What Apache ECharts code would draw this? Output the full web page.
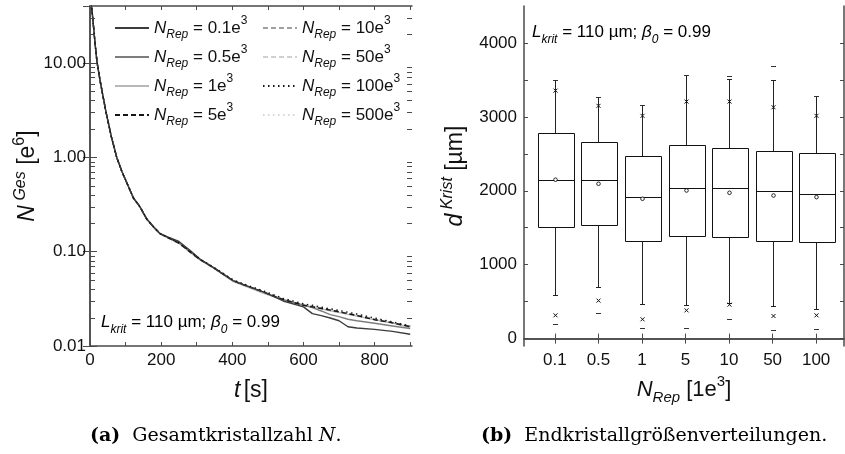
<!DOCTYPE html>
<html><head><meta charset="utf-8">
<script src="https://cdn.jsdelivr.net/npm/echarts@6/dist/echarts.min.js"></script>
<style>html,body{margin:0;padding:0;background:#fff}#c{width:845px;height:454px}</style>
</head><body><div id="c"></div>
<script>
// ---------- left chart data: total crystal number N over time ----------
const tSec = [0,5,10,15,20,30,45,60,75,90,105,122,140,160,180,197,220,250,280,310,346,403,450,490,543,600,625,650,675,700,725,750,800,850,900];
const nRep01  = [55,38,24,15,10,6.0,3.0,1.65,1.0,0.70,0.52,0.37,0.30,0.22,0.18,0.155,0.142,0.128,0.104,0.083,0.068,0.049,0.042,0.037,0.030,0.026,0.022,0.021,0.0198,0.0185,0.016,0.0155,0.015,0.0143,0.0133];
const nRep05  = [55,38,24,15,10,6.0,3.0,1.65,1.0,0.70,0.52,0.37,0.30,0.22,0.18,0.155,0.140,0.124,0.101,0.082,0.068,0.049,0.042,0.037,0.031,0.027,0.0255,0.0235,0.0215,0.0205,0.0192,0.0185,0.0174,0.0163,0.0153];
const nRep1   = [55,38,24,15,10,6.0,3.0,1.65,1.0,0.70,0.52,0.37,0.30,0.22,0.18,0.155,0.139,0.122,0.099,0.081,0.067,0.048,0.041,0.036,0.031,0.027,0.026,0.0248,0.0236,0.0226,0.0216,0.0207,0.019,0.0175,0.0158];
const nRep5   = [55,38,24,15,10,6.0,3.0,1.65,1.0,0.70,0.52,0.37,0.30,0.22,0.18,0.155,0.140,0.123,0.100,0.082,0.068,0.049,0.042,0.037,0.031,0.027,0.026,0.025,0.024,0.023,0.022,0.021,0.019,0.0176,0.016];
const nRep10  = [55,38,24,15,10,6.0,3.0,1.65,1.0,0.70,0.52,0.37,0.30,0.22,0.18,0.155,0.141,0.123,0.100,0.082,0.068,0.049,0.042,0.037,0.0312,0.0272,0.0262,0.0251,0.0241,0.0231,0.0221,0.0211,0.0192,0.0177,0.0161];
const nRep50  = [55,38,24,15,10,6.0,3.0,1.65,1.0,0.70,0.52,0.37,0.30,0.22,0.18,0.155,0.140,0.122,0.100,0.082,0.068,0.049,0.042,0.037,0.031,0.027,0.026,0.025,0.024,0.023,0.022,0.021,0.0191,0.0176,0.0161];
const nRep100 = [55,38,24,15,10,6.0,3.0,1.65,1.0,0.70,0.52,0.37,0.30,0.22,0.18,0.155,0.141,0.124,0.101,0.083,0.069,0.050,0.043,0.038,0.032,0.028,0.027,0.0258,0.0248,0.0238,0.0228,0.0218,0.0198,0.018,0.0163];
const nRep500 = [55,38,24,15,10,6.0,3.0,1.65,1.0,0.70,0.52,0.37,0.30,0.22,0.18,0.155,0.140,0.123,0.100,0.082,0.068,0.049,0.042,0.037,0.031,0.0272,0.0262,0.0252,0.0242,0.0232,0.0222,0.0212,0.0193,0.0178,0.0162];
const repLabels = ['0.1','0.5','1','5','10','50','100','500'];
const tLabelVals = [0,200,400,600,800];
const tTickVals = [0,100,200,300,400,500,600,700,800,900];
const logMinorVals = [0.02,0.03,0.04,0.05,0.06,0.07,0.08,0.09,0.2,0.3,0.4,0.5,0.6,0.7,0.8,0.9,2,3,4,5,6,7,8,9,20,30];

// ---------- right chart data: final crystal size distributions ----------
const boxCats     = ['0.1','0.5','1','5','10','50','100'];
const whiskerLow  = [589,703,468,459,486,446,405];
const quart1      = [1508,1540,1324,1392,1378,1324,1311];
const medianVals  = [2149,2149,1914,2041,2031,2000,1959];
const quart3      = [2784,2657,2464,2622,2576,2541,2508];
const whiskerHigh = [3500,3274,3162,3562,3513,3500,3288];
const meanVals    = [2150,2095,1892,2004,1973,1936,1914];
const pct1Vals    = [315,514,261,382,459,306,315];
const pct99Vals   = [3355,3149,3014,3207,3207,3130,3014];
const minVals     = [203,342,144,144,261,122,135];
const maxVals     = [3500,3274,3162,3562,3554,3684,3288];
const dLabelVals  = [0,1000,2000,3000,4000];
const dTickVals   = [0,500,1000,1500,2000,2500,3000,3500,4000];

// ---------- styling ----------
const SANS = '"Liberation Sans", Arial, Helvetica, sans-serif';
const SERIF = '"DejaVu Serif", "Liberation Serif", serif';
const AX = '#4a4a4a';
function rich(fs) {
  const s = Math.round(fs * 0.68);
  return {
    it:  {fontFamily: SANS, fontSize: fs, fontStyle: 'italic', color: '#111', lineHeight: fs + 9, verticalAlign: 'middle'},
    rg:  {fontFamily: SANS, fontSize: fs, color: '#111', lineHeight: fs + 9, verticalAlign: 'middle'},
    sub: {fontFamily: SANS, fontSize: s, fontStyle: 'italic', color: '#111', lineHeight: s + 2, verticalAlign: 'bottom'},
    sup: {fontFamily: SANS, fontSize: s, color: '#111', lineHeight: s, verticalAlign: 'top'},
    supi:{fontFamily: SANS, fontSize: s, fontStyle: 'italic', color: '#111', lineHeight: s, verticalAlign: 'top'}
  };
}

const lineDefs = [
  {data: nRep01,  color: '#3c3c3c', type: 'solid', z: 8},
  {data: nRep05,  color: '#7d7d7d', type: 'solid', z: 6},
  {data: nRep1,   color: '#b8b8b8', type: 'solid', z: 4},
  {data: nRep5,   color: '#151515', type: [5, 3],  z: 7},
  {data: nRep10,  color: '#a0a0a0', type: [5, 3],  z: 5},
  {data: nRep50,  color: '#d0d0d0', type: [5, 3],  z: 3},
  {data: nRep100, color: '#151515', type: [1.5, 3.5], z: 9},
  {data: nRep500, color: '#d6d6d6', type: [1.5, 3.5], z: 2}
];
const seriesNames = repLabels.map(r => 'NRep=' + r + 'e3');

const series = lineDefs.map((d, i) => ({
  name: seriesNames[i], type: 'line', xAxisIndex: 0, yAxisIndex: 0,
  data: tSec.map((t, k) => [t, d.data[k]]),
  symbol: 'none', clip: true, z: d.z, silent: true, animation: false,
  lineStyle: {color: d.color, width: 1.4, type: d.type},
  itemStyle: {color: d.color}
}));

// minor ticks of the log axis (both sides, inward)
series.push({
  type: 'custom', xAxisIndex: 0, yAxisIndex: 0, silent: true, animation: false, z: 10,
  data: logMinorVals.map(v => [0, v]), encode: {x: 0, y: 1},
  renderItem: function (params, api) {
    const v = api.value(1);
    const pl = api.coord([0, v]);
    const pr = api.coord([905, v]);
    const y = Math.round(pl[1]) + 0.5;
    return {type: 'group', children: [
      {type: 'line', shape: {x1: pl[0], y1: y, x2: pl[0] + 5, y2: y}, style: {stroke: AX, lineWidth: 1}},
      {type: 'line', shape: {x1: pr[0] - 5, y1: y, x2: pr[0], y2: y}, style: {stroke: AX, lineWidth: 1}}
    ]};
  }
});

// box plots
const BOXW = 0.82;
series.push({
  type: 'custom', xAxisIndex: 2, yAxisIndex: 2, silent: true, animation: false,
  data: boxCats.map((c, i) => [i + 1, whiskerLow[i], quart1[i], medianVals[i], quart3[i], whiskerHigh[i], meanVals[i], pct1Vals[i], pct99Vals[i], minVals[i], maxVals[i]]),
  encode: {x: 0, y: [1, 2, 3, 4, 5]},
  renderItem: function (params, api) {
    const xv = api.value(0);
    const cx = Math.round(api.coord([xv, 0])[0]) + 0.5;
    const yOf = v => Math.round(api.coord([xv, v])[1]) + 0.5;
    const hw = api.size([BOXW, 0])[0] / 2;
    const lo = yOf(api.value(1)), q1 = yOf(api.value(2)), md = yOf(api.value(3)), q3 = yOf(api.value(4)), hi = yOf(api.value(5));
    const mean = api.coord([xv, api.value(6)])[1];
    const p1 = api.coord([xv, api.value(7)])[1], p99 = api.coord([xv, api.value(8)])[1];
    const mn = yOf(api.value(9)), mx = yOf(api.value(10));
    const W = {stroke: '#222', lineWidth: 1};
    const ch = [];
    ch.push({type: 'line', shape: {x1: cx, y1: q3, x2: cx, y2: hi}, style: W});
    ch.push({type: 'line', shape: {x1: cx, y1: q1, x2: cx, y2: lo}, style: W});
    ch.push({type: 'line', shape: {x1: cx - 2.5, y1: hi, x2: cx + 2.5, y2: hi}, style: W});
    ch.push({type: 'line', shape: {x1: cx - 2.5, y1: lo, x2: cx + 2.5, y2: lo}, style: W});
    const bx = Math.round(cx - hw) + 0.5, bw = Math.round(2 * hw);
    ch.push({type: 'rect', shape: {x: bx, y: q3, width: bw, height: q1 - q3}, style: {fill: '#fff', stroke: '#111', lineWidth: 1}});
    ch.push({type: 'line', shape: {x1: bx, y1: md, x2: bx + bw, y2: md}, style: {stroke: '#111', lineWidth: 1}});
    ch.push({type: 'circle', shape: {cx: cx, cy: mean, r: 1.8}, style: {fill: '#fff', stroke: '#111', lineWidth: 0.9}});
    [p1, p99].forEach(py => {
      ch.push({type: 'line', shape: {x1: cx - 2, y1: py - 2, x2: cx + 2, y2: py + 2}, style: {stroke: '#111', lineWidth: 1}});
      ch.push({type: 'line', shape: {x1: cx - 2, y1: py + 2, x2: cx + 2, y2: py - 2}, style: {stroke: '#111', lineWidth: 1}});
    });
    [mn, mx].forEach(py => {
      ch.push({type: 'line', shape: {x1: cx - 2.5, y1: py, x2: cx + 2.5, y2: py}, style: {stroke: '#333', lineWidth: 1}});
    });
    return {type: 'group', children: ch};
  }
});

const axisLine = {show: true, lineStyle: {color: AX, width: 1.5}};
const lblStyle = {fontFamily: SANS, fontSize: 17, color: '#111'};
const legendCommon = {orient: 'vertical', top: 15, padding: 0, itemWidth: 34, itemHeight: 12, itemGap: 3,
  selectedMode: false, textStyle: {rich: rich(17)}, itemStyle: {opacity: 0, borderWidth: 0},
  formatter: n => '{it|N}{sub|Rep}{rg| = ' + n.slice(5, -2) + 'e}{sup|3}'};

const option = {
  animation: false,
  backgroundColor: '#fff',
  grid: [
    {left: 90, top: 6, width: 322, height: 340},
    {left: 524, top: 6, width: 320, height: 340}
  ],
  xAxis: [
    {gridIndex: 0, type: 'value', min: 0, max: 905, position: 'bottom',
     axisLine, splitLine: {show: false},
     axisTick: {inside: true, length: 4, lineStyle: {color: AX}, customValues: tTickVals},
     axisLabel: Object.assign({margin: 6, customValues: tLabelVals}, lblStyle),
     name: '{it|t} {rg|[s]}', nameLocation: 'middle', nameGap: 29,
     nameTextStyle: {rich: rich(23)}},
    {gridIndex: 0, type: 'value', min: 0, max: 905, position: 'top',
     axisLine, splitLine: {show: false},
     axisTick: {inside: true, length: 4, lineStyle: {color: AX}, customValues: tTickVals},
     axisLabel: {show: false}},
    {gridIndex: 1, type: 'value', min: 0.29, max: 7.64, position: 'bottom',
     axisLine, splitLine: {show: false},
     axisTick: {inside: true, length: 5, lineStyle: {color: AX}, customValues: [1,2,3,4,5,6,7]},
     axisLabel: Object.assign({margin: 6, customValues: [1,2,3,4,5,6,7], formatter: v => boxCats[Math.round(v) - 1]}, lblStyle),
     name: '{it|N}{sub|Rep}{rg| [1e}{sup|3}{rg|]}', nameLocation: 'middle', nameGap: 28,
     nameTextStyle: {rich: rich(22)}},
    {gridIndex: 1, type: 'value', min: 0.29, max: 7.64, position: 'top',
     axisLine, splitLine: {show: false},
     axisTick: {inside: true, length: 5, lineStyle: {color: AX}, customValues: [1,2,3,4,5,6,7]},
     axisLabel: {show: false}}
  ],
  yAxis: [
    {gridIndex: 0, type: 'log', logBase: 10, min: 0.01, max: 40, position: 'left',
     axisLine, splitLine: {show: false}, minorTick: {show: false},
     axisTick: {inside: true, length: 7, lineStyle: {color: AX}},
     axisLabel: Object.assign({margin: 4, showMaxLabel: false,
       formatter: v => { const l = Math.log10(v); return Math.abs(l - Math.round(l)) < 1e-6 ? Number(v).toFixed(2) : ''; }}, lblStyle),
     name: '{it|N}{supi| Ges}{rg| [e}{sup|6}{rg|]}', nameLocation: 'middle', nameGap: 44, nameRotate: 90,
     nameTextStyle: {rich: rich(23)}},
    {gridIndex: 0, type: 'log', logBase: 10, min: 0.01, max: 40, position: 'right',
     axisLine, splitLine: {show: false},
     axisTick: {inside: true, length: 7, lineStyle: {color: AX}},
     axisLabel: {show: false}},
    {gridIndex: 1, type: 'value', min: -100, max: 4500, position: 'left',
     axisLine, splitLine: {show: false},
     axisTick: {inside: true, length: 4, lineStyle: {color: AX}, customValues: dTickVals},
     axisLabel: Object.assign({margin: 7, customValues: dLabelVals, formatter: v => String(v)}, lblStyle),
     name: '{it|d}{supi| Krist}{rg| [µm]}', nameLocation: 'middle', nameGap: 52, nameRotate: 90,
     nameTextStyle: {rich: rich(23)}},
    {gridIndex: 1, type: 'value', min: -100, max: 4500, position: 'right',
     axisLine, splitLine: {show: false},
     axisTick: {inside: true, length: 4, lineStyle: {color: AX}, customValues: dTickVals},
     axisLabel: {show: false}}
  ],
  legend: [
    Object.assign({data: seriesNames.slice(0, 4), left: 114}, legendCommon),
    Object.assign({data: seriesNames.slice(4), left: 262}, legendCommon)
  ],
  graphic: [
    {type: 'text', left: 101, top: 314, silent: true,
     style: {text: '{it|L}{sub|krit}{rg| = 110 µm; }{it|β}{sub|0}{rg| = 0.99}', rich: rich(17)}},
    {type: 'text', left: 532, top: 24, silent: true,
     style: {text: '{it|L}{sub|krit}{rg| = 110 µm; }{it|β}{sub|0}{rg| = 0.99}', rich: rich(17)}},
    {type: 'text', left: 90, top: 427, silent: true,
     style: {text: '{b|(a)}{r|  Gesamtkristallzahl }{i|N}{r|.}', rich: {
       b: {fontFamily: SERIF, fontSize: 19, fontWeight: 'bold', color: '#111'},
       r: {fontFamily: SERIF, fontSize: 19, color: '#111'},
       i: {fontFamily: SERIF, fontSize: 19, fontStyle: 'italic', color: '#111'}}}},
    {type: 'text', left: 481, top: 427, silent: true,
     style: {text: '{b|(b)}{r|  Endkristallgrößenverteilungen.}', rich: {
       b: {fontFamily: SERIF, fontSize: 19, fontWeight: 'bold', color: '#111'},
       r: {fontFamily: SERIF, fontSize: 19, color: '#111'}}}}
  ],
  series
};

const chart = echarts.init(document.getElementById('c'), null, {renderer: 'canvas'});
chart.setOption(option);
</script>
</body></html>
